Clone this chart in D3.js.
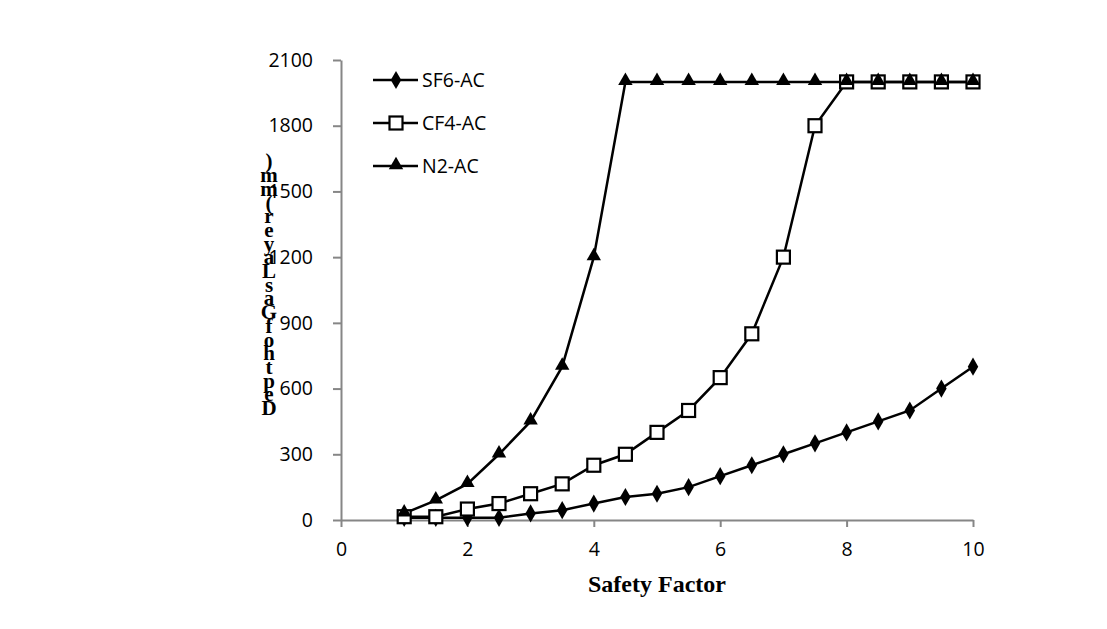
<!DOCTYPE html>
<html><head><meta charset="utf-8">
<script src="https://cdn.jsdelivr.net/npm/d3@7"></script>
<style>body{margin:0;background:#fff;}</style>
</head><body>
<svg id="chart" width="1107" height="629"></svg>
<script>
const xValues = [1,1.5,2,2.5,3,3.5,4,4.5,5,5.5,6,6.5,7,7.5,8,8.5,9,9.5,10];
const sf6 = [10,10,10,10,30,45,75,105,120,150,200,250,300,350,400,450,500,600,700];
const cf4 = [15,15,50,75,120,165,250,300,400,500,650,850,1200,1800,2000,2000,2000,2000,2000];
const n2  = [30,90,165,300,450,700,1200,2000,2000,2000,2000,2000,2000,2000,2000,2000,2000,2000,2000];
const seriesNames = ["SF6-AC","CF4-AC","N2-AC"];
const xTicks = [0,2,4,6,8,10];
const yTicks = [0,300,600,900,1200,1500,1800,2100];
const xTitle = "Safety Factor";
const yTitle = "Depth of Gas Layer (mm)";

const svg = d3.select("#chart");
const x = d3.scaleLinear().domain([0,10]).range([341,973]);
const y = d3.scaleLinear().domain([0,2100]).range([520,60]);
const axisColor = "#868686";
const tickFont = "'Open Sans', sans-serif";

// axes
const xAxis = svg.append("g").attr("transform","translate(0,520)")
  .call(d3.axisBottom(x).tickValues(xTicks).tickFormat(d3.format("d")).tickSize(7).tickSizeOuter(0).tickPadding(15));
const yAxis = svg.append("g").attr("transform","translate(341,0)")
  .call(d3.axisLeft(y).tickValues(yTicks).tickFormat(d3.format("d")).tickSize(8).tickSizeOuter(0).tickPadding(20));
[xAxis,yAxis].forEach(a=>{
  a.selectAll("path,line").attr("stroke",axisColor).attr("stroke-width",2);
  a.selectAll("text").attr("fill","#000").style("font-family",tickFont).style("font-size","19.5px");
});

// series
const data = [sf6,cf4,n2];
const line = d3.line().x((d,i)=>x(xValues[i])).y(d=>y(d)).curve(d3.curveLinear);
const g = svg.append("g");
data.forEach((s,k)=>{
  g.append("path").datum(s).attr("d",line).attr("fill","none").attr("stroke","#000").attr("stroke-width",2.5);
});
function marker(sel,k,cx,cy){
  if(k===0){
    sel.append("path").attr("d",d3.symbol(d3.symbolDiamond,95)()).attr("transform",`translate(${cx},${cy})`).attr("fill","#000");
  } else if(k===1){
    sel.append("rect").attr("x",cx-6.5).attr("y",cy-6.5).attr("width",13).attr("height",13)
      .attr("fill","#fff").attr("stroke","#000").attr("stroke-width",2.2);
  } else {
    sel.append("path").attr("d",d3.symbol(d3.symbolTriangle,90)()).attr("transform",`translate(${cx},${cy-1})`).attr("fill","#000");
  }
}
data.forEach((s,k)=>{
  s.forEach((d,i)=>marker(g,k,x(xValues[i]),y(d)));
});

// legend
const leg = svg.append("g");
seriesNames.forEach((n,k)=>{
  const ly = 80 + k*43;
  leg.append("line").attr("x1",373).attr("x2",418).attr("y1",ly).attr("y2",ly).attr("stroke","#000").attr("stroke-width",2.5);
  marker(leg,k,396,ly);
  leg.append("text").attr("x",422).attr("y",ly+7).text(n)
    .style("font-family",tickFont).style("font-size","19.5px").attr("fill","#000");
});

// x title
svg.append("text").attr("x",657).attr("y",592).attr("text-anchor","middle")
  .style("font-family","'Liberation Serif', serif").style("font-weight","bold").style("font-size","24px").text(xTitle);

// y title: stacked characters, bottom-to-top
const chars = yTitle.replace(/ /g,"").split("");
const yt = svg.append("g");
chars.forEach((c,i)=>{
  yt.append("text").attr("x",269).attr("y",415 - i*13.7).attr("text-anchor","middle")
    .style("font-family","'Liberation Serif', serif").style("font-weight","bold").style("font-size","21px").text(c);
});
</script>
</body></html>
